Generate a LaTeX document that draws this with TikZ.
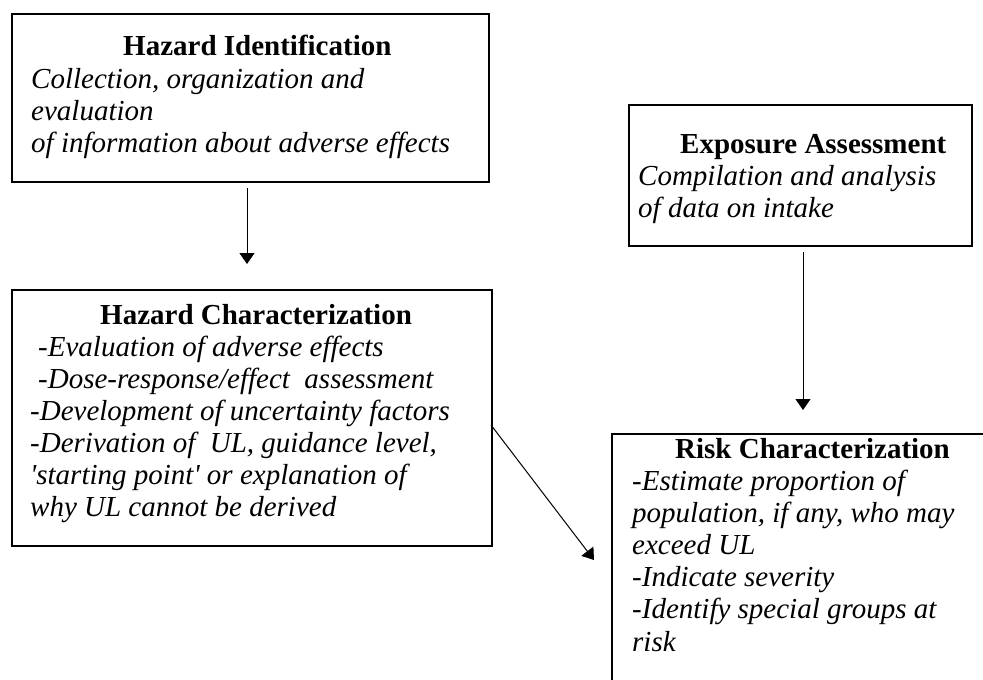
\documentclass[tikz,border=0pt]{standalone}
\usepackage{fontspec}
\setmainfont{Liberation Serif}
\usetikzlibrary{arrows.meta}
\begin{document}
\begin{tikzpicture}[x=1pt,y=-1pt,
  box/.style={draw,line width=1.5pt,inner sep=0pt,anchor=north west},
  head/.style={anchor=base west,inner sep=0pt,font=\fontsize{29}{32}\selectfont\bfseries},
  body/.style={anchor=base west,inner sep=0pt,font=\fontsize{29}{32}\selectfont\itshape},
  arr/.style={line width=1pt,-{Triangle[width=15pt,length=11pt]}}]
\useasboundingbox[fill=white] (0,0) rectangle (983,680);
% boxes
\node[box,minimum width=477pt,minimum height=168pt] (b1) at (11,13) {};
\node[box,minimum width=343pt,minimum height=141pt] (b2) at (628,104) {};
\node[box,minimum width=480pt,minimum height=256pt] (b3) at (11,289) {};
\node[box,minimum width=390pt,minimum height=260pt] (b4) at (611,433) {};
% box 1 text
\node[head] (t1h) at (123,55) {Hazard Identification};
\node[body] (t1a) at (31,88) {Collection, organization and};
\node[body] (t1b) at (31,120) {evaluation};
\node[body] (t1c) at (31,152) {of information about adverse effects};
% box 2 text
\node[head] (t2h) at (680,153) {Exposure Assessment};
\node[body] (t2a) at (638,185) {Compilation and analysis};
\node[body] (t2b) at (638,217) {of data on intake};
% box 3 text
\node[head] (t3h) at (100,324) {Hazard Characterization};
\node[body] (t3a) at (38,356) {-Evaluation of adverse effects};
\node[body] (t3b) at (38,388) {-Dose-response/effect\ \ assessment};
\node[body] (t3c) at (30,420) {-Development of uncertainty factors};
\node[body] (t3d) at (30,452) {-Derivation of\ \ UL, guidance level,};
\node[body] (t3e) at (30,484) {\textquotesingle starting point\textquotesingle{} or explanation of};
\node[body] (t3f) at (30,516) {why UL cannot be derived};
% box 4 text
\node[head] (t4h) at (675,458) {Risk Characterization};
\node[body] (t4a) at (632,490) {-Estimate proportion of};
\node[body] (t4b) at (632,522) {population, if any, who may};
\node[body] (t4c) at (632,554) {exceed UL};
\node[body] (t4d) at (632,586) {-Indicate severity};
\node[body] (t4e) at (632,618) {-Identify special groups at};
\node[body] (t4f) at (632,651) {risk};
% connectors
\coordinate (a1s) at (247,188);
\coordinate (a1e) at (247,264);
\coordinate (a2s) at (803,252);
\coordinate (a2e) at (803,410);
\coordinate (a3s) at (491,425);
\coordinate (a3e) at (594,560);
\draw[arr] (a1s) -- (a1e);
\draw[arr] (a2s) -- (a2e);
\draw[arr] (a3s) -- (a3e);
\end{tikzpicture}
\end{document}
